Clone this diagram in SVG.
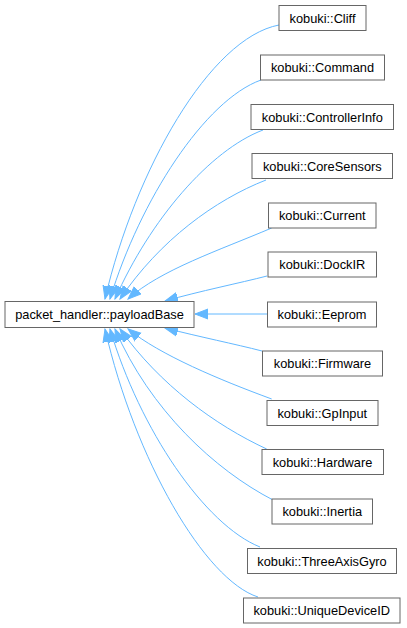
<svg xmlns="http://www.w3.org/2000/svg" width="407" height="628" viewBox="0 0 407 628">
<style>
.node rect{fill:#ffffff;stroke:#666666;stroke-width:1}
.node text{font-family:"Liberation Sans",Arial,Helvetica,sans-serif;font-size:12.8px;fill:#000000;text-anchor:middle}
.edge{fill:none;stroke:#63b8ff;stroke-width:1;marker-end:url(#arr)}
</style>
<defs>
<marker id="arr" markerUnits="userSpaceOnUse" markerWidth="14" markerHeight="12" viewBox="0 -6 14 12" refX="13" refY="0" orient="auto">
<polygon points="0,-5 13,0 0,5" fill="#63b8ff" stroke="#63b8ff" stroke-width="1"/>
</marker>
</defs>
<rect width="407" height="628" fill="#ffffff"/>
<g id="connectors">
<path class="edge" d="M279,25 C210,38 135,170 105,299"/>
<path class="edge" d="M261,80 C205,100 140,200 110,299"/>
<path class="edge" d="M263,130 C210,150 150,220 115,299"/>
<path class="edge" d="M266,180 C215,200 160,240 120,299"/>
<path class="edge" d="M271.7,228 C220,250 160,270 128,299"/>
<path class="edge" d="M267,276 C240,283 200,291 165,301"/>
<path class="edge" d="M267,314 L195,314"/>
<path class="edge" d="M262,351 C235,344 200,337 165,328"/>
<path class="edge" d="M271.7,399 C220,380 160,355 128,329"/>
<path class="edge" d="M266.7,449 C215,425 160,385 120,329"/>
<path class="edge" d="M273,500 C215,470 150,410 115,329"/>
<path class="edge" d="M260,547 C205,525 140,430 110,329"/>
<path class="edge" d="M258,597 C205,580 135,460 105,329"/>
</g>
<g id="payloadBase" class="node"><rect x="5" y="301.5" width="189" height="26"/><text x="99.5" y="319">packet_handler::payloadBase</text></g>
<g id="Cliff" class="node"><rect x="279" y="5.5" width="87" height="25"/><text x="322.5" y="22.5">kobuki::Cliff</text></g>
<g id="Command" class="node"><rect x="260.5" y="55" width="124" height="25"/><text x="322.5" y="72">kobuki::Command</text></g>
<g id="ControllerInfo" class="node"><rect x="251" y="104.5" width="142.5" height="25"/><text x="322.3" y="121.5">kobuki::ControllerInfo</text></g>
<g id="CoreSensors" class="node"><rect x="252" y="153.5" width="140.5" height="25"/><text x="322.3" y="170.5">kobuki::CoreSensors</text></g>
<g id="Current" class="node"><rect x="268.5" y="203" width="107.5" height="25"/><text x="322.3" y="220">kobuki::Current</text></g>
<g id="DockIR" class="node"><rect x="268" y="252" width="108.5" height="25"/><text x="322.3" y="269">kobuki::DockIR</text></g>
<g id="Eeprom" class="node"><rect x="267.5" y="302" width="109" height="25"/><text x="322" y="319">kobuki::Eeprom</text></g>
<g id="Firmware" class="node"><rect x="262.5" y="351" width="120" height="25"/><text x="322.5" y="368">kobuki::Firmware</text></g>
<g id="GpInput" class="node"><rect x="267" y="400.5" width="111" height="25"/><text x="322.3" y="417.5">kobuki::GpInput</text></g>
<g id="Hardware" class="node"><rect x="262" y="449.5" width="121.5" height="25"/><text x="322.5" y="466.5">kobuki::Hardware</text></g>
<g id="Inertia" class="node"><rect x="272" y="499" width="100.5" height="25"/><text x="322.3" y="516">kobuki::Inertia</text></g>
<g id="ThreeAxisGyro" class="node"><rect x="247.5" y="548.5" width="149" height="25"/><text x="322" y="565.5">kobuki::ThreeAxisGyro</text></g>
<g id="UniqueDeviceID" class="node"><rect x="243.5" y="598" width="156.5" height="25"/><text x="321.7" y="615">kobuki::UniqueDeviceID</text></g>
</svg>
